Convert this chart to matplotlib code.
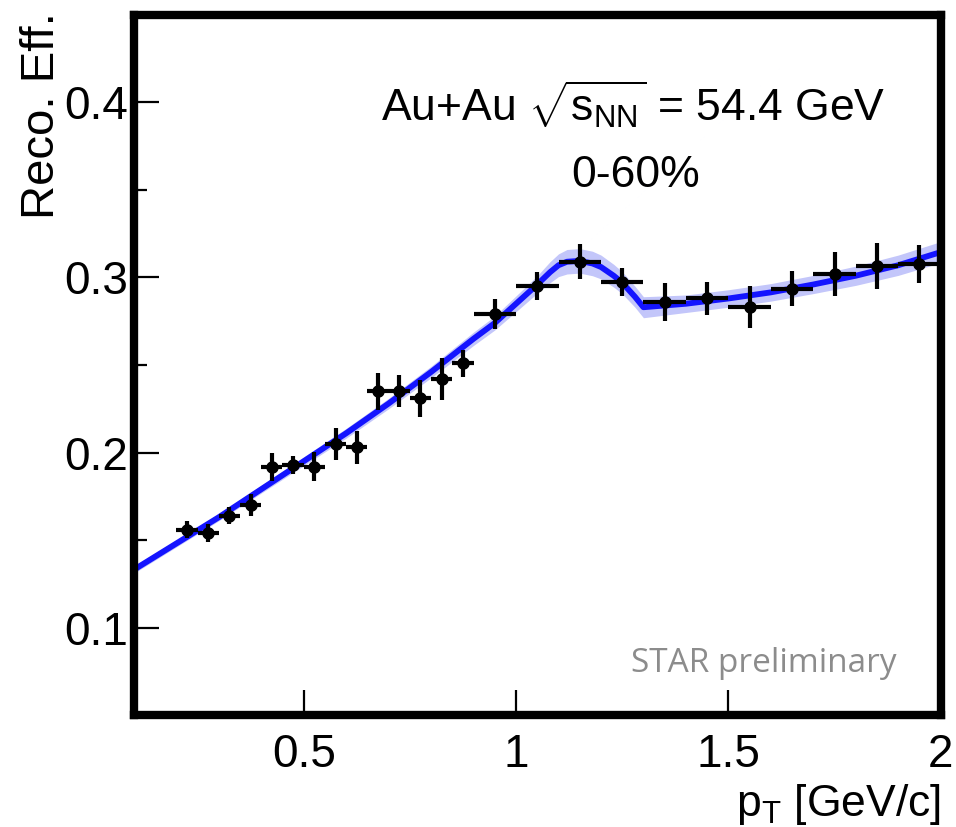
import matplotlib
matplotlib.use('Agg')
import matplotlib.pyplot as plt
from matplotlib.ticker import MultipleLocator

plt.rcParams['font.family'] = ['Liberation Sans', 'DejaVu Sans']
plt.rcParams['mathtext.fontset'] = 'custom'
plt.rcParams['mathtext.rm'] = 'Liberation Sans'
plt.rcParams['mathtext.it'] = 'Liberation Sans'

# measured points
pt = [0.225, 0.275, 0.325, 0.375, 0.425, 0.475, 0.525, 0.575, 0.625, 0.675,
      0.725, 0.775, 0.825, 0.875, 0.95, 1.05, 1.15, 1.25, 1.35, 1.45,
      1.55, 1.65, 1.75, 1.85, 1.95]
eff = [0.156, 0.154, 0.164, 0.170, 0.192, 0.193, 0.192, 0.205, 0.203, 0.235,
       0.235, 0.231, 0.242, 0.251, 0.279, 0.295, 0.309, 0.2975, 0.286, 0.288,
       0.2834, 0.2936, 0.302, 0.3067, 0.3078]
pt_err = [0.025] * 14 + [0.05] * 11
eff_err = [0.005, 0.005, 0.005, 0.0065, 0.008, 0.005, 0.0085, 0.009, 0.0095, 0.0105,
           0.009, 0.0105, 0.012, 0.0077, 0.0085, 0.008, 0.010, 0.008, 0.011, 0.0097,
           0.012, 0.010, 0.0128, 0.013, 0.011]

# fit curve and its band
fit_x = [0.10, 0.20, 0.30, 0.40, 0.50, 0.60, 0.70, 0.80, 0.90, 0.95, 1.00, 1.05,
         1.08, 1.10, 1.12, 1.15, 1.18, 1.20, 1.23, 1.25, 1.28, 1.30, 1.35, 1.40,
         1.50, 1.60, 1.70, 1.80, 1.90, 2.00]
fit_y = [0.133, 0.148, 0.163, 0.179, 0.195, 0.211, 0.228, 0.246, 0.265, 0.274,
         0.285, 0.296, 0.303, 0.307, 0.309, 0.3095, 0.308, 0.306, 0.301, 0.297,
         0.289, 0.283, 0.284, 0.285, 0.288, 0.2915, 0.296, 0.301, 0.307, 0.3145]
fit_err = [0.002, 0.002, 0.002, 0.0022, 0.0025, 0.0028, 0.003, 0.0033, 0.0038, 0.004,
           0.0045, 0.005, 0.006, 0.0065, 0.007, 0.007, 0.007, 0.0068, 0.0065, 0.0063,
           0.006, 0.006, 0.0055, 0.005, 0.005, 0.005, 0.0052, 0.0055, 0.0058, 0.006]

fig = plt.figure(figsize=(9.56, 8.27), dpi=100)
ax = fig.add_axes([0.140, 0.1354, 0.844, 0.8465])

lo = [y - e for y, e in zip(fit_y, fit_err)]
hi = [y + e for y, e in zip(fit_y, fit_err)]
ax.fill_between(fit_x, lo, hi, color='#c3c6fa', lw=0, zorder=1)
ax.plot(fit_x, fit_y, color='#1414ff', lw=4.2, zorder=2)
ax.errorbar(pt, eff, xerr=pt_err, yerr=eff_err, fmt='o', color='black',
            ms=8, elinewidth=3, capsize=0, zorder=3)

ax.set_xlim(0.1, 2.0)
ax.set_ylim(0.05, 0.45)
ax.yaxis.set_minor_locator(MultipleLocator(0.05))
ax.set_xticks([0.5, 1.0, 1.5, 2.0])
ax.set_xticklabels(['0.5', '1', '1.5', '2'])
ax.set_yticks([0.1, 0.2, 0.3, 0.4])
ax.set_yticklabels(['0.1', '0.2', '0.3', '0.4'])

ax.tick_params(axis='both', which='major', direction='in', length=18, width=1.6,
               labelsize=33, top=False, right=False)
ax.tick_params(axis='y', which='minor', direction='in', length=9, width=1.6, right=False)
ax.tick_params(axis='x', which='major', pad=13)
ax.tick_params(axis='y', which='major', pad=4)
for s in ax.spines.values():
    s.set_linewidth(6)

fig.text(0.044, 0.985, 'Reco. Eff.', rotation=90, ha='center', va='top', fontsize=34)
fig.text(0.984, 0.013, r'p$_{\mathrm{T}}$ [GeV/c]', ha='right', va='baseline', fontsize=32)

ax.text(0.931, 0.871, r'Au+Au $\sqrt{s_{\mathrm{NN}}}$ = 54.4 GeV', transform=ax.transAxes,
        ha='right', va='center', fontsize=32)
ax.text(0.622, 0.771, '0-60%', transform=ax.transAxes, ha='center', va='center', fontsize=32)
ax.text(0.945, 0.073, 'STAR preliminary', transform=ax.transAxes, ha='right',
        va='center', fontsize=24, color='#8c8c8c', family=['Open Sans', 'DejaVu Sans'])

fig.savefig('out.png', dpi=100)
